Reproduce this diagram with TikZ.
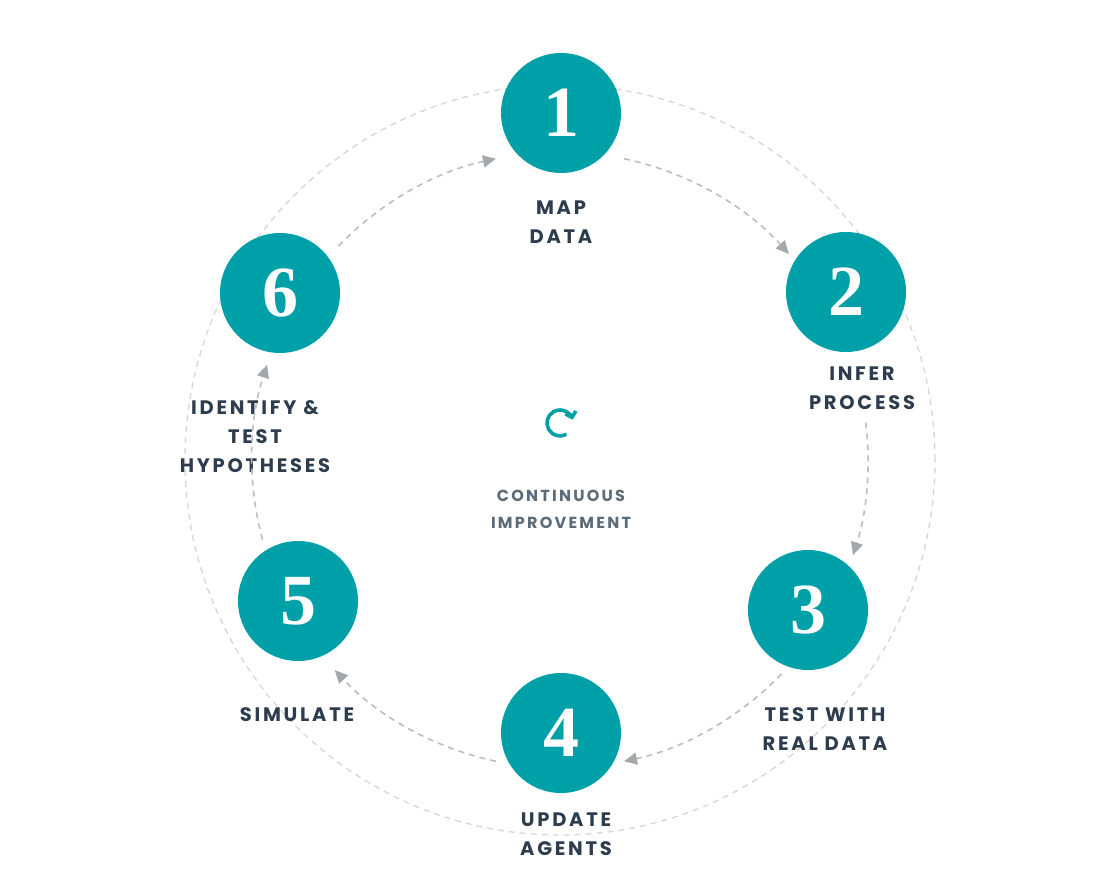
\documentclass[tikz,border=0pt]{standalone}
\usepackage{fontspec}
\setmainfont{Lato}
\newfontfamily\labfont{Poppins}[LetterSpace=14]
\newfontfamily\numfont{Liberation Serif}
\usetikzlibrary{arrows.meta, positioning, calc}
\definecolor{teal1}{HTML}{00A0A8}
\definecolor{ink}{HTML}{2E3D4D}
\definecolor{softink}{HTML}{5B6B78}
\definecolor{ringgray}{HTML}{D6D6D6}
\definecolor{arcgray}{HTML}{BDBDBD}
\definecolor{tipgray}{HTML}{A3A8AC}

\begin{document}
\begin{tikzpicture}[x=1pt, y=1pt,
  stage/.style = {circle, fill=teal1, minimum size=120pt, inner sep=0pt,
    text=white, font=\numfont\bfseries\fontsize{72}{72}\selectfont},
  caption/.style = {text=ink, align=center, font=\labfont\bfseries\fontsize{19.5}{29}\selectfont},
  ring/.style = {ringgray, line width=1.3pt, dash pattern=on 6pt off 5pt},
  flow/.style = {arcgray, line width=1.6pt, dash pattern=on 6pt off 5pt,
    -{Triangle[length=13pt, width=12pt, fill=tipgray, color=tipgray]}}
]
  \useasboundingbox (0,0) rectangle (1107,895);

  % outer ring
  \coordinate (hub) at (560,435);
  \draw[ring] (hub) circle (375);

  % stages
  \node[stage] (s1) at (561,782) {1};
  \node[stage] (s2) at (846,603) {2};
  \node[stage] (s3) at (808,285) {3};
  \node[stage] (s4) at (561,162) {4};
  \node[stage] (s5) at (298,294) {5};
  \node[stage] (s6) at (280,602) {6};

  % captions
  \node[caption] (c1) at (561,673) {MAP\\DATA};
  \node[caption] (c2) at (862,507) {INFER\\PROCESS};
  \node[caption] (c3) at (825,166) {TEST WITH\\REAL DATA};
  \node[caption] (c4) at (566,61) {UPDATE\\AGENTS};
  \node[caption] (c5) at (297,180) {SIMULATE};
  \node[caption] (c6) at (255,458) {IDENTIFY \&\\TEST\\HYPOTHESES};

  % flow arcs
  \draw[flow] ($(hub)+(78:308)$) arc (78:42:308);
  \draw[flow] ($(hub)+(7:308)$) arc (7:-18:308);
  \draw[flow] ($(hub)+(-44:308)$) arc (-44:-78:308);
  \draw[flow] ($(hub)+(-102:308)$) arc (-102:-137:308);
  \draw[flow] ($(hub)+(-165:308)$) arc (-165:-198:308);
  \draw[flow] ($(hub)+(136:308)$) arc (136:102:308);

  % centre
  \coordinate (icon) at (560,472);
  \draw[teal1, line width=3.6pt, -{Straight Barb[length=5pt, width=11pt]}]
    ($(icon)+(-60:13)$) arc (-60:-345:13);
  \node[text=softink, align=center, font=\labfont\bfseries\fontsize{16}{27}\selectfont]
    (motto) at (561,386) {CONTINUOUS\\IMPROVEMENT};
\end{tikzpicture}
\end{document}
